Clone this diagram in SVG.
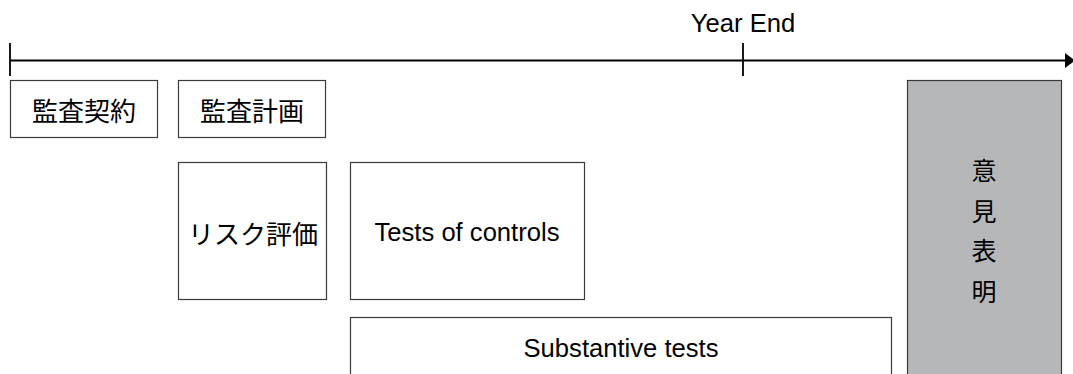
<svg xmlns="http://www.w3.org/2000/svg" width="1073" height="374" viewBox="0 0 1073 374">
<style>
.box{fill:#fff;stroke:#3a3a3a;stroke-width:1.2}
.gray{fill:#b6b7b9;stroke:#3a3a3a;stroke-width:1.2}
.axis{stroke:#000;stroke-width:1.8;fill:none}
.lat{font-family:"Liberation Sans",Arial,sans-serif;font-size:25.6px;fill:#000;text-anchor:middle}
.cjk{font-family:"Noto Sans CJK JP","Noto Sans CJK SC",sans-serif;font-size:26px;fill:#000;text-anchor:middle}
.vt{font-size:25px}
</style>
<rect width="1073" height="374" fill="#fff"/>
<g id="timeline">
<line class="axis" x1="10" y1="60.5" x2="1066" y2="60.5"/>
<line class="axis" x1="10" y1="43" x2="10" y2="76"/>
<line class="axis" x1="743" y1="43" x2="743" y2="76"/>
<polygon points="1065,53 1075,60.5 1065,68" fill="#000"/>
<text class="lat" x="743" y="32">Year End</text>
</g>
<g id="keiyaku">
<rect class="box" x="10.5" y="80.5" width="147" height="57"/>
<text class="cjk" x="84" y="121">監査契約</text>
</g>
<g id="keikaku">
<rect class="box" x="178.5" y="80.5" width="147" height="57"/>
<text class="cjk" x="252" y="121">監査計画</text>
</g>
<g id="risk">
<rect class="box" x="178.5" y="162.5" width="148" height="137"/>
<text class="cjk" x="253" y="244">リスク評価</text>
</g>
<g id="toc">
<rect class="box" x="350.5" y="162.5" width="234" height="137"/>
<text class="lat" x="467" y="241">Tests of controls</text>
</g>
<g id="substantive">
<rect class="box" x="350.5" y="317.5" width="541" height="70"/>
<text class="lat" x="621" y="357">Substantive tests</text>
</g>
<g id="opinion">
<rect class="gray" x="907.5" y="80.5" width="154" height="310"/>
<text class="cjk vt" x="984" y="180">意</text>
<text class="cjk vt" x="984" y="220.5">見</text>
<text class="cjk vt" x="984" y="259.5">表</text>
<text class="cjk vt" x="984" y="300.5">明</text>
</g>
<g id="connectors"></g>
</svg>
